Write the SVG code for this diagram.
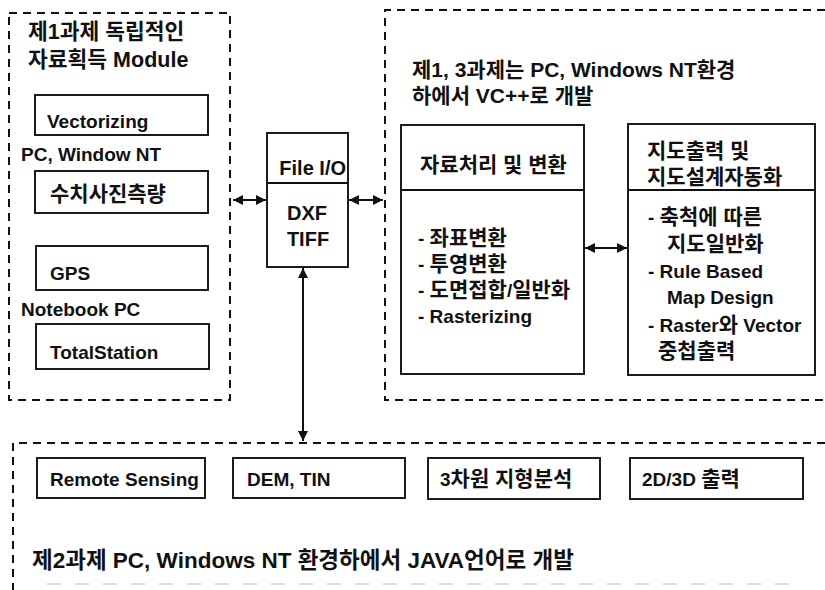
<svg xmlns="http://www.w3.org/2000/svg" width="825" height="590" viewBox="0 0 825 590">
  <style>
    text { font-family: "Liberation Sans", "Noto Sans CJK KR", sans-serif; font-size: 19px; font-weight: bold; fill: #111; }
    .k { font-size: 21px; }
    .t { font-size: 21px; }
    .tl { font-size: 21.5px; }
    .cap { font-size: 22.5px; }
    .io { font-size: 20px; }
    .dash { fill: none; stroke: #111; stroke-width: 2; stroke-dasharray: 8 6; }
    .box { fill: #fff; stroke: #111; stroke-width: 1.9; }
    .line { fill: none; stroke: #111; stroke-width: 1.9; }
    .conn { fill: none; stroke: #111; stroke-width: 2; marker-start: url(#ah); marker-end: url(#ah); }
    .faint { fill: none; stroke: #dcdcdc; stroke-width: 2; stroke-dasharray: 14 14; }
  </style>
  <defs>
    <marker id="ah" viewBox="0 0 10 10" refX="10" refY="5" markerWidth="6" markerHeight="5" orient="auto-start-reverse" markerUnits="strokeWidth">
      <path d="M0,0 L10,5 L0,10 z" fill="#111"/>
    </marker>
  </defs>
  <rect width="825" height="590" fill="#fff"/>

  <!-- Task 1: independent data acquisition modules -->
  <g id="acquisition">
    <rect class="dash" x="9" y="13" width="221" height="387"/>
    <text class="tl" x="28" y="39">제1과제 독립적인</text>
    <text class="tl" x="28" y="67">자료획득 Module</text>
    <text x="21" y="161">PC, Window NT</text>
    <text x="21" y="316">Notebook PC</text>
  </g>
  <g id="vectorizing">
    <rect class="box" x="35" y="95" width="173" height="40"/>
    <text x="47" y="128">Vectorizing</text>
  </g>
  <g id="photogrammetry">
    <rect class="box" x="35" y="171" width="173" height="42"/>
    <text class="k" x="50" y="201">수치사진측량</text>
  </g>
  <g id="gps">
    <rect class="box" x="36" y="246" width="172" height="44"/>
    <text x="50" y="280">GPS</text>
  </g>
  <g id="totalstation">
    <rect class="box" x="36" y="324" width="173" height="45"/>
    <text x="50" y="359">TotalStation</text>
  </g>

  <!-- Shared file exchange -->
  <g id="fileio">
    <rect class="box" x="267" y="133" width="81" height="134"/>
    <line class="line" x1="267" y1="183" x2="348" y2="183"/>
    <text class="io" x="346" y="175" text-anchor="end">File I/O</text>
    <text class="io" x="307" y="220" text-anchor="middle">DXF</text>
    <text class="io" x="308" y="246" text-anchor="middle">TIFF</text>
  </g>

  <!-- Tasks 1 and 3: processing and map output -->
  <g id="processing-area">
    <path class="dash" d="M825,10 H385 V400 H825"/>
    <text class="t" x="412" y="77">제1, 3과제는 PC, Windows NT환경</text>
    <text class="t" x="412" y="103">하에서 VC++로 개발</text>
  </g>
  <g id="processing">
    <rect class="box" x="401" y="125" width="183" height="249"/>
    <line class="line" x1="401" y1="190" x2="584" y2="190"/>
    <text class="k" x="420" y="172">자료처리 및 변환</text>
    <text x="418" y="245">- <tspan class="k">좌표변환</tspan></text>
    <text x="418" y="271">- <tspan class="k">투영변환</tspan></text>
    <text x="418" y="297">- <tspan class="k">도면접합</tspan>/<tspan class="k">일반화</tspan></text>
    <text x="418" y="323">- Rasterizing</text>
  </g>
  <g id="mapoutput">
    <rect class="box" x="628" y="124" width="187" height="251"/>
    <line class="line" x1="628" y1="190" x2="815" y2="190"/>
    <text class="k" x="647" y="158">지도출력 및</text>
    <text class="k" x="647" y="184">지도설계자동화</text>
    <text x="648" y="224">- <tspan class="k">축척에 따른</tspan></text>
    <text class="k" x="667" y="251">지도일반화</text>
    <text x="648" y="278">- Rule Based</text>
    <text x="667" y="304">Map Design</text>
    <text x="648" y="332">- Raster<tspan class="k">와</tspan> Vector</text>
    <text class="k" x="658" y="358">중첩출력</text>
  </g>

  <!-- Task 2: Java modules -->
  <g id="java-area">
    <path class="dash" d="M825,443 H13 V590"/>
    <text class="cap" x="32" y="568">제2과제 PC,  Windows NT 환경하에서 JAVA언어로 개발</text>
    <line class="faint" x1="47" y1="584" x2="790" y2="584"/>
  </g>
  <g id="remotesensing">
    <rect class="box" x="37" y="458" width="168" height="40"/>
    <text x="50" y="486">Remote Sensing</text>
  </g>
  <g id="demtin">
    <rect class="box" x="233" y="458" width="172" height="40"/>
    <text x="247" y="486">DEM, TIN</text>
  </g>
  <g id="terrain">
    <rect class="box" x="428" y="458" width="172" height="41"/>
    <text x="440" y="486">3<tspan class="k">차원 지형분석</tspan></text>
  </g>
  <g id="output2d3d">
    <rect class="box" x="630" y="458" width="173" height="41"/>
    <text x="642" y="486">2D/3D <tspan class="k">출력</tspan></text>
  </g>

  <!-- Connectors -->
  <g id="connectors">
    <line class="conn" x1="233" y1="200" x2="266" y2="200"/>
    <line class="conn" x1="349" y1="200" x2="383" y2="200"/>
    <line class="conn" x1="585" y1="248" x2="627" y2="248"/>
    <line class="conn" x1="303" y1="268" x2="303" y2="441"/>
  </g>
</svg>
